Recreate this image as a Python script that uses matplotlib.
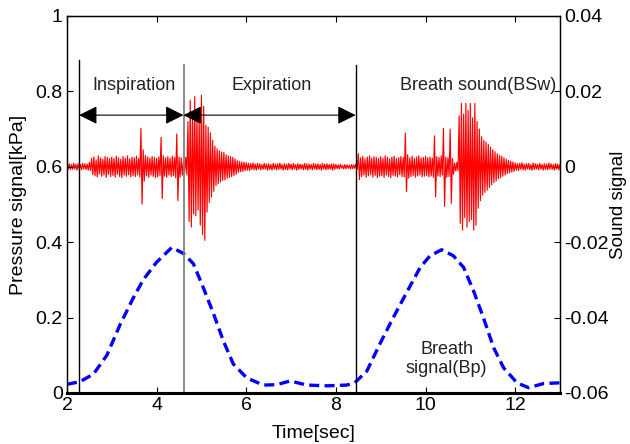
import numpy as np
import matplotlib
matplotlib.use("Agg")
from matplotlib import pyplot as plt

# pressure signal (kPa)
press_t = [2.0, 2.29, 2.59, 2.89, 3.18, 3.47, 3.70, 4.0, 4.34, 4.6, 4.82, 5.04, 5.27,
           5.49, 5.71, 6.01, 6.38, 6.68, 6.98, 7.35, 7.8, 8.24, 8.42, 8.69, 8.98, 9.28,
           9.58, 9.88, 10.1, 10.36, 10.62, 10.85, 11.07, 11.29, 11.52, 11.74, 12.04,
           12.3, 12.63, 13.0]
press_v = [0.023, 0.03, 0.05, 0.10, 0.18, 0.25, 0.30, 0.347, 0.386, 0.37, 0.343, 0.28,
           0.21, 0.138, 0.077, 0.04, 0.021, 0.022, 0.032, 0.021, 0.019, 0.021, 0.027,
           0.058, 0.13, 0.20, 0.267, 0.333, 0.364, 0.38, 0.364, 0.333, 0.271, 0.20,
           0.12, 0.067, 0.027, 0.014, 0.025, 0.027]

# sound signal: max / min (x1e-3) inside each 0.05 s window, 2.00 .. 13.00
sound_hi = [
    0.7, 0.8, 0.6, 0.9, 0.7, 0.8, 0.6, 0.9, 0.8, 0.7,           # 2.00
    1.2, 2.3, 2.6, 1.8, 2.9, 2.4, 2.0, 2.7, 2.5, 2.2,           # 2.50
    2.6, 2.2, 2.8, 2.4, 2.0, 2.7, 2.3, 2.9, 2.1, 2.5,           # 3.00
    2.4, 2.8, 2.2, 10.2, 4.5, 3.0, 2.6, 2.3, 2.7, 2.5,          # 3.50
    2.2, 2.6, 7.8, 2.9, 2.4, 2.7, 2.3, 2.8, 2.5, 8.7,           # 4.00
    2.6, 2.4, 1.5, 2.5, 12.0, 17.7, 13.5, 18.6, 14.0, 12.5,     # 4.50
    19.0, 16.0, 11.0, 10.5, 9.0, 7.0, 5.5, 4.8, 4.2, 3.9,       # 5.00
    3.8, 3.2, 2.9, 2.7, 2.5, 2.1, 1.6, 1.4, 1.3, 1.2,           # 5.50
    1.1, 0.9, 0.8, 1.0, 0.7, 0.9, 0.8, 0.6, 0.9, 0.7,           # 6.00
    0.8, 0.6, 0.9, 0.7, 0.8, 1.0, 0.6, 0.8, 0.7, 0.9,           # 6.50
    0.7, 0.9, 0.6, 0.8, 0.7, 0.6, 0.9, 0.8, 0.7, 0.6,           # 7.00
    0.9, 0.7, 0.8, 0.6, 0.9, 0.7, 0.8, 0.6, 0.7, 0.8,           # 7.50
    0.6, 0.5, 0.7, 0.4, 0.6, 0.5, 0.4, 0.6, 0.5, 0.8,           # 8.00
    3.5, 2.4, 2.8, 2.1, 2.6, 2.9, 2.3, 2.7, 2.5, 2.2,           # 8.50
    2.7, 2.3, 2.9, 2.5, 2.1, 2.6, 2.8, 2.2, 2.4, 2.7,           # 9.00
    2.5, 8.9, 3.2, 2.4, 2.8, 2.2, 2.6, 2.9, 2.3, 2.5,           # 9.50
    2.8, 2.4, 2.6, 2.3, 8.2, 2.7, 2.5, 2.9, 10.2, 2.6,          # 10.00
    2.4, 10.0, 2.2, 1.0, 1.2, 13.5, 16.8, 14.0, 16.8, 15.0,     # 10.50
    16.8, 13.0, 16.8, 12.0, 10.0, 8.0, 7.0, 6.6, 6.0, 5.2,      # 11.00
    4.5, 4.0, 3.5, 3.0, 2.8, 2.4, 2.0, 1.7, 1.5, 1.3,           # 11.50
    1.0, 0.8, 0.9, 1.1, 0.7, 0.8, 0.9, 0.6, 1.0, 0.8,           # 12.00
    0.7, 0.9, 0.6, 0.8, 0.7, 1.0, 0.8, 0.6, 0.9, 0.7,           # 12.50
    0.6,                                                        # 13.00
]
sound_lo = [
    -0.6, -0.8, -0.7, -0.6, -0.9, -0.7, -0.8, -0.6, -0.7, -0.9,
    -1.0, -2.1, -2.4, -2.7, -1.9, -2.5, -2.2, -2.8, -2.0, -2.6,
    -2.3, -2.8, -2.0, -2.6, -2.9, -2.2, -2.5, -2.1, -2.7, -2.4,
    -2.6, -2.1, -2.7, -9.9, -3.8, -2.4, -2.8, -2.2, -2.6, -2.9,
    -2.7, -2.3, -8.4, -2.5, -2.8, -2.2, -2.6, -2.4, -2.9, -9.0,
    -2.8, -2.2, -1.6, -2.2, -14.5, -16.0, -12.5, -13.0, -11.5, -15.5,
    -18.0, -19.5, -12.0, -9.5, -8.0, -6.5, -5.0, -4.5, -4.0, -3.6,
    -3.5, -3.0, -2.8, -2.6, -2.3, -2.0, -1.5, -1.3, -1.2, -1.0,
    -0.9, -1.0, -0.7, -0.8, -0.9, -0.6, -0.8, -0.7, -0.6, -0.9,
    -0.7, -0.9, -0.6, -0.8, -0.7, -0.6, -0.9, -0.7, -0.8, -0.6,
    -0.8, -0.6, -0.9, -0.7, -0.6, -0.8, -0.7, -0.9, -0.6, -0.8,
    -0.6, -0.8, -0.7, -0.9, -0.6, -0.8, -0.7, -0.6, -0.9, -0.7,
    -0.5, -0.6, -0.4, -0.6, -0.5, -0.4, -0.6, -0.5, -0.4, -0.7,
    -3.4, -2.6, -2.2, -2.8, -2.4, -2.1, -2.7, -2.3, -2.9, -2.5,
    -2.4, -2.8, -2.2, -2.6, -2.9, -2.3, -2.5, -2.7, -2.1, -2.6,
    -2.7, -6.6, -3.0, -2.6, -2.3, -2.8, -2.4, -2.2, -2.7, -2.5,
    -2.3, -2.7, -2.5, -2.8, -8.0, -2.4, -2.6, -2.2, -10.5, -2.8,
    -2.6, -9.7, -2.0, -1.1, -1.0, -15.0, -16.8, -13.5, -16.0, -14.5,
    -14.0, -16.8, -15.5, -11.0, -9.0, -7.5, -6.8, -6.2, -5.5, -4.8,
    -4.2, -3.8, -3.2, -2.9, -2.5, -2.2, -1.8, -1.6, -1.4, -1.2,
    -0.9, -1.0, -0.7, -0.8, -0.9, -0.6, -0.8, -0.9, -0.7, -0.6,
    -0.8, -0.6, -0.9, -0.7, -0.8, -0.6, -0.7, -0.9, -0.6, -0.8,
    -0.5,
]
win_t = np.linspace(2.0, 13.0, len(sound_hi))
sound_t = np.column_stack([win_t, win_t + 0.025]).ravel()
sound_v = np.column_stack([sound_hi, sound_lo]).ravel() / 1000.0

# phase markers
marker_t = [2.27, 4.6, 8.44]
marker_top = [0.883, 0.87, 0.87]
marker_col = ['black', 'gray', 'black']

plt.rcParams['font.family'] = ['Liberation Sans', 'DejaVu Sans']

fig = plt.figure(figsize=(6.3, 4.44), dpi=100)
ax = fig.add_axes([0.1063, 0.1149, 0.7826, 0.8491])
ax2 = ax.twinx()

ax2.plot(sound_t, sound_v, color='red', lw=0.85)
ax2.set_ylim(-0.06, 0.04)
ax2.set_yticks([-0.06, -0.04, -0.02, 0, 0.02, 0.04])
ax2.set_yticklabels(['-0.06', '-0.04', '-0.02', '0', '0.02', '0.04'])
ax2.set_ylabel('Sound signal', fontsize=13.5, labelpad=1)

ax.set_zorder(ax2.get_zorder() + 1)
ax.patch.set_visible(False)
ax.plot(press_t, press_v, color='blue', lw=2.4, linestyle=(0, (3, 1.6)))
for t, top, c in zip(marker_t, marker_top, marker_col):
    ax.plot([t, t], [0, top], color=c, lw=1.0 if c == 'black' else 1.3)

arr = dict(arrowstyle='<|-|>', color='black', lw=0.8, mutation_scale=28,
           shrinkA=0, shrinkB=0)
ax.annotate('', xy=(2.27, 0.737), xytext=(4.6, 0.737), arrowprops=arr)
ax.annotate('', xy=(4.6, 0.737), xytext=(8.44, 0.737), arrowprops=arr)

txt = dict(ha='center', va='center', fontsize=13, color='#222222')
ax.text(3.5, 0.815, 'Inspiration', **txt)
ax.text(6.57, 0.815, 'Expiration', **txt)
ax.text(11.17, 0.815, 'Breath sound(BSw)', **txt)
ax.text(10.47, 0.09, 'Breath\nsignal(Bp)', linespacing=1.2, **txt)

ax.set_xlim(2, 13)
ax.set_ylim(0, 1)
ax.set_xticks([2, 4, 6, 8, 10, 12])
ax.set_yticks([0, 0.2, 0.4, 0.6, 0.8, 1])
ax.set_yticklabels(['0', '0.2', '0.4', '0.6', '0.8', '1'])
ax.set_xlabel('Time[sec]', fontsize=14, labelpad=8)
ax.set_ylabel('Pressure signal[kPa]', fontsize=14, labelpad=6)

for a in (ax, ax2):
    a.tick_params(direction='in', length=4, width=0.8, labelsize=14, pad=3)
    for s in a.spines.values():
        s.set_linewidth(0.9)
    a.spines['bottom'].set_linewidth(2.2)
ax.tick_params(top=True)

fig.savefig('out.png', dpi=100)
